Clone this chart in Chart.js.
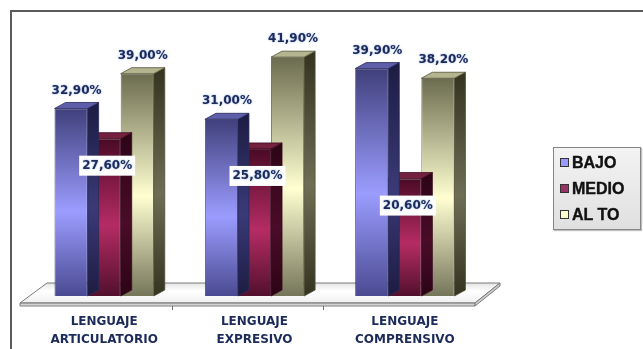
<!DOCTYPE html>
<html>
<head>
<meta charset="utf-8">
<script src="https://cdn.jsdelivr.net/npm/chart.js@4"></script>
<style>
  body { margin: 0; background: #fff; overflow: hidden; }
  #wrap { position: relative; width: 643px; height: 349px; overflow: hidden; }
  #frame { position: absolute; left: 10px; top: 10px; width: 700px; height: 400px; border: 2px solid #5b5b5b; }
  #chart { position: absolute; left: 0; top: 0; }
  #legend {
    position: absolute; left: 553px; top: 147px; width: 86px; height: 81px;
    border: 1px solid #858585; background: linear-gradient(#f3f3f3, #e0e0e0);
    box-shadow: 1px 1px 1px rgba(0,0,0,0.25);
    font: bold 16px "Liberation Sans", Arial, sans-serif; color: #111;
    -webkit-text-stroke: 0.4px #111;
  }
  #legend .item { position: absolute; left: 6px; height: 20px; line-height: 20px; white-space: nowrap; }
  #legend .swatch { display: inline-block; width: 7px; height: 7px; border: 1px solid #333; margin-right: 3px; vertical-align: 1px; }
</style>
</head>
<body>
<div id="wrap">
  <div id="frame"></div>
  <canvas id="chart" width="643" height="349"></canvas>
  <div id="legend"></div>
</div>
<script>
// Data
const categories = [['LENGUAJE', 'ARTICULATORIO'], ['LENGUAJE', 'EXPRESIVO'], ['LENGUAJE', 'COMPRENSIVO']];
const seriesNames = ['BAJO', 'MEDIO', 'AL TO'];
const bajo = [32.9, 31.0, 39.9];
const medio = [27.6, 25.8, 20.6];
const alto = [39.0, 41.9, 38.2];
const axisMax = 45;

// Colours for each series: front gradient (top, middle, bottom), side, top face
const palette = [
    { legend: '#9999ff', front: ['#40407c', '#9c9cff', '#4a4a92'], side: ['#1c1c42', '#3a3a78'], top: '#5e5eaa', edge: '#2a2a5a' },
    { legend: '#993366', front: ['#4a0a25', '#b52c64', '#52102d'], side: ['#2c0416', '#4a0c28'], top: '#74203f', edge: '#3a0a1e' },
    { legend: '#ffffcc', front: ['#6b6b4f', '#ffffd2', '#75755a'], side: ['#33331f', '#6e6e55'], top: '#b4b48f', edge: '#50503a' }
];

const DX = 11, DY = 6; // bar depth
const labelColor = '#1c2b5a';

function frontFill(stops) {
    return function (c) {
        const chart = c.chart;
        if (c.type !== 'data' || !chart.chartArea) return stops[1];
        const ys = chart.scales.y;
        const top = ys.getPixelForValue(c.raw);
        const bot = ys.getPixelForValue(0);
        const g = chart.ctx.createLinearGradient(0, top, 0, bot);
        g.addColorStop(0, stops[0]);
        g.addColorStop(0.55, stops[1]);
        g.addColorStop(1, stops[2]);
        return g;
    };
}

function fmt(v) {
    return v.toFixed(2).replace('.', ',') + '%';
}

// Floor slab under the bars
const floorPlugin = {
    id: 'floor3d',
    beforeDatasetsDraw(chart) {
        const ctx = chart.ctx;
        const xs = chart.scales.x;
        const base = chart.scales.y.getPixelForValue(0);
        const fl = xs.left - 9, fr = xs.right - 5;
        const bl = xs.left + 18, br = xs.right + 20;
        const fy = base + 7, by = base - 13;
        ctx.save();
        // top surface
        const g = ctx.createLinearGradient(0, by, 0, fy);
        g.addColorStop(0, '#e4e4e4');
        g.addColorStop(0.4, '#ffffff');
        g.addColorStop(1, '#f0f0f0');
        ctx.fillStyle = g;
        ctx.strokeStyle = '#7a7a7a';
        ctx.lineWidth = 1;
        ctx.beginPath();
        ctx.moveTo(fl, fy); ctx.lineTo(bl, by); ctx.lineTo(br, by); ctx.lineTo(fr, fy); ctx.closePath();
        ctx.fill(); ctx.stroke();
        // front edge
        const g2 = ctx.createLinearGradient(0, fy, 0, fy + 3);
        g2.addColorStop(0, '#bdbdbd');
        g2.addColorStop(1, '#e8e8e8');
        ctx.fillStyle = g2;
        ctx.beginPath();
        ctx.rect(fl, fy, fr - fl, 3);
        ctx.fill(); ctx.stroke();
        // right edge
        ctx.fillStyle = '#cfcfcf';
        ctx.beginPath();
        ctx.moveTo(fr, fy); ctx.lineTo(br, by); ctx.lineTo(br, by + 3); ctx.lineTo(fr, fy + 3); ctx.closePath();
        ctx.fill(); ctx.stroke();
        // category separators
        ctx.strokeStyle = '#6e6e6e';
        const step = (xs.right - xs.left) / categories.length;
        for (let i = 1; i < categories.length; i++) {
            const x = Math.round(xs.left + i * step - 7) + 0.5;
            ctx.beginPath();
            ctx.moveTo(x, fy + 3); ctx.lineTo(x, fy + 7);
            ctx.stroke();
        }
        ctx.restore();
    }
};

// Side and top faces of each bar
const barsPlugin = {
    id: 'bars3d',
    afterDatasetDraw(chart, args) {
        const ctx = chart.ctx;
        const p = palette[args.index];
        ctx.save();
        args.meta.data.forEach(function (el) {
            const { x, y, base, width } = el.getProps(['x', 'y', 'base', 'width'], true);
            const l = x - width / 2, r = x + width / 2;
            const sg = ctx.createLinearGradient(0, y - DY, 0, base);
            sg.addColorStop(0, p.side[0]);
            sg.addColorStop(0.55, p.side[1]);
            sg.addColorStop(1, p.side[0]);
            ctx.fillStyle = sg;
            ctx.strokeStyle = p.edge;
            ctx.lineWidth = 0.8;
            ctx.beginPath();
            ctx.moveTo(r, y); ctx.lineTo(r + DX, y - DY); ctx.lineTo(r + DX, base - DY); ctx.lineTo(r, base); ctx.closePath();
            ctx.fill(); ctx.stroke();
            ctx.fillStyle = p.top;
            ctx.beginPath();
            ctx.moveTo(l, y); ctx.lineTo(l + DX, y - DY); ctx.lineTo(r + DX, y - DY); ctx.lineTo(r, y); ctx.closePath();
            ctx.fill(); ctx.stroke();
        });
        ctx.restore();
    }
};

// Percentage labels
const valuePlugin = {
    id: 'values',
    afterDatasetsDraw(chart) {
        const ctx = chart.ctx;
        ctx.save();
        ctx.font = 'bold 12px "DejaVu Sans", sans-serif';
        ctx.textAlign = 'center';
        ctx.textBaseline = 'middle';
        chart.data.datasets.forEach(function (ds, di) {
            chart.getDatasetMeta(di).data.forEach(function (el, i) {
                const text = fmt(ds.data[i]);
                let tx, ty;
                if (di === 1) {
                    tx = el.x + 3;
                    ty = el.y + 27;
                    const w = ctx.measureText(text).width;
                    ctx.shadowColor = 'transparent';
                    ctx.fillStyle = '#ffffff';
                    ctx.fillRect(tx - w / 2 - 3, ty - 10, w + 6, 20);
                } else {
                    tx = el.x + DX / 2;
                    ty = el.y - 18;
                }
                ctx.shadowColor = 'rgba(70, 110, 200, 0.6)';
                ctx.shadowBlur = 2;
                ctx.fillStyle = labelColor;
                ctx.fillText(text, tx, ty);
            });
        });
        ctx.restore();
    }
};

const seriesData = [bajo, medio, alto];

const chart = new Chart(document.getElementById('chart').getContext('2d'), {
    type: 'bar',
    data: {
        labels: categories,
        datasets: seriesNames.map(function (name, i) {
            return {
                label: name,
                data: seriesData[i],
                backgroundColor: frontFill(palette[i].front),
                borderColor: palette[i].edge,
                borderWidth: 0.8,
                categoryPercentage: 0.66,
                barPercentage: 1.0
            };
        })
    },
    options: {
        responsive: false,
        animation: false,
        layout: { padding: { left: 29, right: 163, top: 39.5, bottom: 0 } },
        plugins: {
            legend: { display: false },
            tooltip: { enabled: false }
        },
        scales: {
            y: { display: false, min: 0, max: axisMax },
            x: {
                grid: { display: false, drawTicks: false },
                border: { display: false },
                afterFit: function (scale) { scale.height = 53; },
                ticks: {
                    color: labelColor,
                    padding: 17,
                    maxRotation: 0,
                    autoSkip: false,
                    font: { family: '"DejaVu Sans", sans-serif', size: 12, weight: 'bold', lineHeight: 18 / 12 }
                }
            }
        }
    },
    plugins: [floorPlugin, barsPlugin, valuePlugin]
});

// Legend box
const legendEl = document.getElementById('legend');
chart.data.datasets.forEach(function (ds, i) {
    const item = document.createElement('div');
    item.className = 'item';
    item.style.top = (5 + i * 26) + 'px';
    const sw = document.createElement('span');
    sw.className = 'swatch';
    sw.style.background = palette[i].legend;
    item.appendChild(sw);
    item.appendChild(document.createTextNode(ds.label));
    legendEl.appendChild(item);
});
</script>
</body>
</html>
